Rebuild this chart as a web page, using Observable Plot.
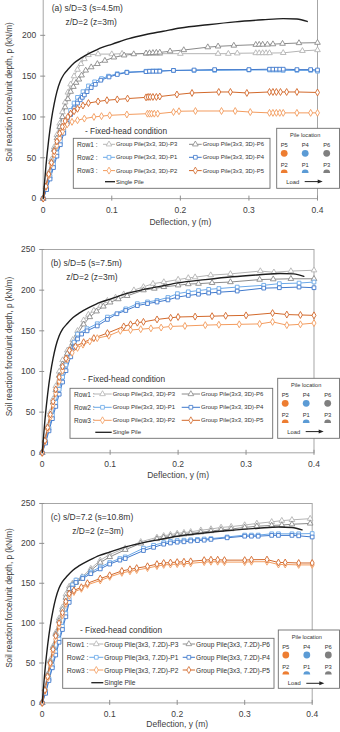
<!DOCTYPE html>
<html>
<head>
<meta charset="utf-8">
<script src="https://cdn.jsdelivr.net/npm/d3@7"></script>
<script src="https://cdn.jsdelivr.net/npm/@observablehq/plot@0.6"></script>
<style>
  body { margin: 0; background: #fff; }
  #page { position: relative; width: 340px; height: 732px; overflow: hidden;
          font-family: "Liberation Sans", Arial, sans-serif; background: #fff; }
  #page > svg { position: absolute; left: 0; }
  #overlay { pointer-events: none; }
</style>
</head>
<body>
<div id="page"></div>
<script>
// ---- Axis ticks -------------------------------------------------------
const xTicks = [0, 0.1, 0.2, 0.3, 0.4];
const yTicks = [0, 50, 100, 150, 200, 250];

// ---- Single pile response: [deflection y (m), p (kN/m)] ----------------
const singlePile = [[0,0],[0.004,40],[0.008,72],[0.012,97],[0.016,116],[0.02,131],[0.025,144],[0.03,152],
  [0.037,159],[0.045,166],[0.055,172],[0.07,179],[0.085,185],[0.1,189],[0.125,196],[0.15,201],[0.175,205],
  [0.2,209],[0.24,213],[0.28,216.5],[0.32,219],[0.35,220.5],[0.37,220],[0.385,217]];

// ---- (a) s/D = 3 -------------------------------------------------------
const a_P3 = [[0,0],[0.004,15],[0.008,32],[0.012,48],[0.016,63],[0.02,78],[0.024,92],[0.028,106],[0.032,118],
  [0.036,130],[0.04,140],[0.045,150],[0.05,158],[0.055,165],[0.06,171],[0.066,176],[0.08,177],[0.1,177],
  [0.115,177.5],[0.15,177.5],[0.155,177.5],[0.16,177.5],[0.165,177.5],[0.17,177.5],[0.2,177.5],[0.255,177.5],
  [0.27,177.5],[0.283,178],[0.31,178.3],[0.315,178.3],[0.32,178.3],[0.325,178.3],[0.33,178.3],[0.35,178.5],
  [0.378,181],[0.4,182]];
const a_P6 = [[0,0],[0.004,14],[0.008,30],[0.012,45],[0.016,60],[0.02,74],[0.024,88],[0.028,100],[0.032,112],
  [0.036,122],[0.04,131],[0.044,137],[0.048,142],[0.052,146],[0.056,151],[0.062,157],[0.07,161],[0.079,165],
  [0.09,169],[0.103,173],[0.118,175.5],[0.132,177],[0.15,178],[0.155,178.3],[0.16,178.5],[0.165,178.8],
  [0.17,179],[0.185,180.5],[0.205,182],[0.24,185.5],[0.255,186.5],[0.278,187.5],[0.31,188.5],[0.315,188.6],
  [0.32,188.7],[0.327,188.8],[0.335,189.2],[0.349,189.8],[0.373,190.6],[0.4,191]];
const a_P1 = [[0,0],[0.005,12],[0.01,27],[0.015,42],[0.02,56],[0.025,70],[0.03,84],[0.035,97],[0.04,108],
  [0.045,117],[0.05,124],[0.058,131],[0.066,138],[0.075,143],[0.085,147],[0.095,150],[0.108,153],[0.122,155],
  [0.15,156],[0.155,156],[0.16,156.3],[0.165,156.3],[0.17,156.5],[0.19,157],[0.22,157],[0.25,157],[0.3,157.5],
  [0.33,157.5],[0.335,157.5],[0.34,157.5],[0.345,157.5],[0.35,157],[0.37,157],[0.39,157],[0.4,156]];
const a_P4 = [[0,0],[0.005,11],[0.01,24],[0.015,38],[0.02,52],[0.025,66],[0.03,80],[0.035,92],[0.04,103],
  [0.045,111],[0.05,117],[0.054,121],[0.057,124],[0.06,127],[0.064,131],[0.07,136],[0.076,140],[0.084,145],
  [0.096,149],[0.108,152],[0.122,154.5],[0.15,155.5],[0.155,156],[0.16,156],[0.165,156],[0.17,156],[0.19,157],
  [0.22,157.5],[0.25,158],[0.3,158],[0.33,158.5],[0.335,158.5],[0.34,158.5],[0.345,158.5],[0.35,158.5],
  [0.37,158],[0.39,158],[0.4,157.5]];
const a_P2 = [[0,0],[0.004,14],[0.008,28],[0.012,42],[0.016,54],[0.02,65],[0.024,74],[0.028,82],[0.031,88],
  [0.035,91],[0.042,94],[0.05,96],[0.06,98],[0.074,100],[0.085,101],[0.097,102],[0.122,103],[0.152,104],
  [0.155,104],[0.158,104],[0.162,104],[0.167,104],[0.19,106],[0.198,107],[0.222,107.3],[0.26,107.3],
  [0.28,107.3],[0.302,106],[0.33,105],[0.335,105],[0.34,105],[0.345,105],[0.35,105],[0.37,105],[0.39,105],
  [0.4,105]];
const a_P5 = [[0,0],[0.004,15],[0.008,30],[0.012,44],[0.016,58],[0.02,70],[0.024,80],[0.028,88],[0.032,95],
  [0.036,100],[0.04,104],[0.045,107],[0.05,110],[0.058,114],[0.066,117],[0.08,119],[0.093,120.5],[0.108,121.5],
  [0.123,122.5],[0.15,124],[0.153,124.5],[0.156,124.5],[0.16,124.5],[0.165,124.5],[0.17,125],[0.195,127.5],
  [0.217,129.4],[0.256,130.6],[0.273,130.6],[0.297,129.4],[0.33,130.6],[0.335,130.6],[0.34,130.6],
  [0.346,130.6],[0.355,130.6],[0.37,130.6],[0.4,130]];

// ---- (b) s/D = 5 -------------------------------------------------------
const b_P3 = [[0,0],[0.004,16],[0.008,33],[0.012,50],[0.016,66],[0.02,82],[0.025,100],[0.03,114],[0.037,126],
  [0.045,139],[0.052,150],[0.061,163],[0.068,170],[0.076,175],[0.086,181],[0.096,187],[0.108,191],[0.12,195],
  [0.135,200],[0.149,204],[0.163,208],[0.179,210],[0.2,213],[0.215,215],[0.225,216],[0.248,218.5],
  [0.277,220],[0.321,223.5],[0.341,222],[0.366,223.5],[0.4,224.5]];
const b_P6 = [[0,0],[0.004,15],[0.008,31],[0.012,47],[0.016,62],[0.02,77],[0.025,95],[0.03,109],[0.037,122],
  [0.045,135],[0.052,146],[0.061,158],[0.07,167],[0.08,174],[0.09,180],[0.1,185],[0.112,189],[0.125,193],
  [0.149,200],[0.165,202],[0.179,204],[0.2,206],[0.215,207.5],[0.23,208],[0.25,209],[0.277,210],[0.32,213],
  [0.34,213.5],[0.366,214],[0.4,214]];
const b_P1 = [[0,0],[0.005,14],[0.01,30],[0.015,46],[0.02,62],[0.025,78],[0.03,93],[0.035,108],[0.042,125],
  [0.047,136],[0.052,146],[0.066,152.6],[0.081,158.7],[0.096,166.9],[0.123,177],[0.14,183.4],[0.155,185.5],
  [0.169,187.4],[0.185,191],[0.199,195.7],[0.215,198],[0.23,199.5],[0.245,201],[0.26,202],[0.287,203.8],
  [0.326,206],[0.349,208],[0.378,208.7],[0.4,210]];
const b_P4 = [[0,0],[0.005,12],[0.01,27],[0.015,42],[0.02,57],[0.025,72],[0.03,87],[0.035,101],[0.042,118],
  [0.047,130],[0.052,140],[0.058,146],[0.066,150],[0.081,156],[0.096,164],[0.11,171],[0.123,175],[0.14,181],
  [0.155,183.5],[0.169,185.4],[0.185,188],[0.199,191.5],[0.215,193.5],[0.23,195],[0.245,196.5],[0.26,197.5],
  [0.287,198.9],[0.326,202.5],[0.349,203],[0.378,203.8],[0.4,203]];
const b_P2 = [[0,0],[0.004,14],[0.008,29],[0.012,44],[0.016,59],[0.02,73],[0.025,88],[0.03,101],[0.037,115],
  [0.044,123],[0.052,129],[0.06,133],[0.07,137],[0.081,141],[0.098,144],[0.115,150],[0.13,151],[0.145,152],
  [0.16,153],[0.175,154],[0.189,155.4],[0.21,156],[0.24,157],[0.26,157.5],[0.29,158],[0.32,158.5],
  [0.339,161],[0.36,157],[0.38,158],[0.4,159.5]];
const b_P5 = [[0,0],[0.004,15],[0.008,31],[0.012,47],[0.016,63],[0.02,78],[0.025,93],[0.03,106],[0.035,116],
  [0.04,126],[0.049,130.8],[0.061,136],[0.076,141],[0.096,147.2],[0.12,155.4],[0.13,158],[0.14,160],
  [0.149,161],[0.169,164],[0.189,166],[0.2,167],[0.225,167.5],[0.25,168],[0.27,168.5],[0.3,169],
  [0.339,171.8],[0.36,170],[0.38,169.5],[0.4,169]];

// ---- (c) s/D = 7.2 -----------------------------------------------------
const c_P3 = [[0,0],[0.004,18],[0.008,36],[0.012,54],[0.016,71],[0.02,88],[0.025,106],[0.03,120],[0.035,136],
  [0.04,146],[0.045,150],[0.05,153],[0.059,158],[0.072,168.4],[0.086,178.8],[0.1,186],[0.123,194],[0.146,202],
  [0.17,207.5],[0.18,209.5],[0.19,211],[0.2,212.5],[0.21,213.5],[0.22,214.5],[0.235,216.5],[0.25,218],
  [0.265,220],[0.28,221],[0.3,223],[0.318,225],[0.34,227],[0.355,228.5],[0.37,229.5],[0.397,231]];
const c_P6 = [[0,0],[0.004,17],[0.008,35],[0.012,52],[0.016,69],[0.02,86],[0.025,103],[0.03,117],[0.035,132],
  [0.04,143],[0.045,148],[0.05,151],[0.059,156],[0.072,166],[0.086,176],[0.1,183],[0.123,192],[0.146,200],
  [0.17,205.5],[0.18,207.5],[0.19,209],[0.2,210.5],[0.21,211.5],[0.22,212.5],[0.235,214],[0.25,215.5],
  [0.265,217],[0.28,218],[0.3,220],[0.318,221.5],[0.34,222.5],[0.355,223],[0.37,224],[0.397,225]];
const c_P1 = [[0,0],[0.005,13],[0.01,30],[0.015,47],[0.02,64],[0.025,80],[0.03,96],[0.035,112],[0.04,130],
  [0.045,148],[0.05,154],[0.06,158],[0.072,164],[0.086,170.4],[0.1,176],[0.115,181],[0.123,183],[0.15,194],
  [0.165,197.6],[0.18,201],[0.19,202.5],[0.2,203.5],[0.21,204],[0.22,204.5],[0.23,205],[0.24,205.5],
  [0.25,206],[0.274,208],[0.3,210.4],[0.31,210.4],[0.32,210.4],[0.34,212],[0.35,212],[0.37,212],[0.38,212],
  [0.4,212.3]];
const c_P4 = [[0,0],[0.005,12],[0.01,28],[0.015,44],[0.02,60],[0.025,76],[0.03,92],[0.035,108],[0.04,126],
  [0.045,144],[0.05,151],[0.06,156],[0.072,162],[0.086,168],[0.1,174],[0.115,179],[0.123,181],[0.15,191],
  [0.165,195],[0.18,199],[0.19,200.5],[0.2,201.5],[0.21,202],[0.22,203],[0.23,203.5],[0.24,204],[0.25,205],
  [0.274,207],[0.3,209],[0.31,209],[0.32,209],[0.34,210],[0.35,210],[0.37,210],[0.38,209.5],[0.4,208]];
const c_P2 = [[0,0],[0.004,15],[0.008,31],[0.012,48],[0.016,64],[0.02,80],[0.025,96],[0.03,110],[0.035,124],
  [0.04,134],[0.047,139],[0.058,143],[0.067,148],[0.086,153.5],[0.1,158],[0.118,163],[0.13,165],[0.14,166.5],
  [0.156,169],[0.17,171.5],[0.18,173],[0.19,173.5],[0.2,174],[0.21,174.5],[0.22,175],[0.24,176.5],[0.25,177],
  [0.26,177],[0.27,176.5],[0.3,176.5],[0.31,177],[0.333,177],[0.35,173.5],[0.36,173.5],[0.38,173],[0.4,173]];
const c_P5 = [[0,0],[0.004,16],[0.008,33],[0.012,50],[0.016,67],[0.02,84],[0.025,100],[0.03,113],[0.035,127],
  [0.04,137],[0.047,141],[0.058,145],[0.067,150],[0.086,155.9],[0.1,160],[0.118,165.4],[0.13,167.5],[0.14,169],
  [0.156,171.3],[0.17,174],[0.18,175.4],[0.19,176],[0.2,176.5],[0.21,177],[0.22,177.5],[0.24,179],[0.25,179.5],
  [0.26,179.5],[0.27,179],[0.3,179],[0.31,179.5],[0.333,179.7],[0.35,176],[0.36,176],[0.38,175.4],[0.4,175.4]];

// ---- Labels -------------------------------------------------------------
const panelTitles = ["(a) s/D=3 (s=4.5m)", "(b) s/D=5 (s=7.5m)", "(c) s/D=7.2 (s=10.8m)"];
const depthNote = "z/D=2 (z=3m)";
const spacingTags = ["3D", "3D", "7.2D"];
const xTitle = "Deflection, y (m)";
const yTitle = "Soil reaction force/unit depth, p (kN/m)";
const conditionNote = "- Fixed-head condition";
const rowNames = ["Row1 :", "Row2 :", "Row3 :"];
const rowPiles = [["P3", "P6"], ["P1", "P4"], ["P2", "P5"]];
const singleLabel = "Single Pile";
const locTitle = "Pile location";
const locTopRow = ["P5", "P4", "P6"];
const locBottomRow = ["P2", "P1", "P3"];
const loadLabel = "Load";

// ---- Styling ------------------------------------------------------------
const pileStyle = {
  P3: {color: "#b4b4b4", symbol: "triangle"},
  P6: {color: "#8a8a8a", symbol: "triangle"},
  P1: {color: "#6aa8e8", symbol: "square"},
  P4: {color: "#3f78cc", symbol: "square"},
  P2: {color: "#f39c5e", symbol: "diamond"},
  P5: {color: "#d2682a", symbol: "diamond"}
};
const locColor = {P5: "#ed7d31", P2: "#ed7d31", P4: "#5b9bd5", P1: "#5b9bd5", P6: "#7f7f7f", P3: "#7f7f7f"};
const FONT = "'Liberation Sans', Arial, sans-serif";
const TEXT = "#404040";

const panelSeries = [
  {P3: a_P3, P6: a_P6, P1: a_P1, P4: a_P4, P2: a_P2, P5: a_P5},
  {P3: b_P3, P6: b_P6, P1: b_P1, P4: b_P4, P2: b_P2, P5: b_P5},
  {P3: c_P3, P6: c_P6, P1: c_P1, P4: c_P4, P2: c_P2, P5: c_P5}
];

// Page layout of each panel: plot frame edges (px) and annotation placement.
// Panel (a) runs off the top of the page, so its 250 label is left out.
const layout = [
  {left: 42.7, right: 317, top: -5.8, bottom: 198.3, noteDx: 22.3, xTitleDy: 26.7, yTitleY: 92, yMaxLabel: 200,
   legend: {x0: 73.3, x1: 270, y0: 138.3, y1: 188.3, noteX: 85, noteY: 131, rows: [144.3, 157.3, 170.6, 181.7],
            rowX: 77, s1: [103, 115], t1: 116, s2: [189, 201.7], t2: 202.7, fs: 5.9, rfs: 6.6},
   loc: {x0: 276.7, x1: 339.5, y0: 128.3, y1: 188.3}},
  {left: 41.7, right: 313.5, top: 249, bottom: 452.3, noteDx: 24, xTitleDy: 25.7, yTitleY: 346.5, yMaxLabel: 250,
   legend: {x0: 70, x1: 272.7, y0: 388.3, y1: 438.3, noteX: 83, noteY: 379, rows: [394, 407.3, 420.3, 432.3],
            rowX: 74, s1: [93.3, 111.7], t1: 112.7, s2: [181.7, 200], t2: 201, fs: 6, rfs: 6.6},
   loc: {x0: 277.7, x1: 339.5, y0: 378.3, y1: 438.3}},
  {left: 41.7, right: 311.7, top: 503.3, bottom: 702.7, noteDx: 30, xTitleDy: 24.3, yTitleY: 598, yMaxLabel: 250,
   legend: {x0: 62.7, x1: 274, y0: 638.3, y1: 688.3, noteX: 80, noteY: 630, rows: [644, 657.3, 670, 682.7],
            rowX: 66.7, s1: [89.3, 103.3], t1: 104.3, s2: [182.7, 195], t2: 196, fs: 6.6, rfs: 7},
   loc: {x0: 278.3, x1: 339.5, y0: 630, y1: 688.3}}
];

const page = document.getElementById("page");
const MT = 12, MB = 34;

const toRows = (arr) => arr.map(([y, p]) => ({y, p}));
const drawOrder = ["P3", "P6", "P1", "P4", "P2", "P5"];

layout.forEach((L, i) => {
  const series = panelSeries[i];
  const shownY = yTicks.filter(t => t <= L.yMaxLabel);
  const marks = [
    Plot.frame({stroke: "#a6a6a6", strokeWidth: 1}),
    // tick marks straddling the axis lines
    Plot.axisY({ticks: shownY, tickSize: 5, dx: 2.5, tickFormat: () => "", stroke: "#8f8f8f", label: null}),
    Plot.axisX({ticks: xTicks, tickSize: 5, dy: -2.5, tickFormat: () => "", stroke: "#8f8f8f", label: null}),
    // tick labels
    Plot.axisY({ticks: shownY, tickSize: 0, tickPadding: 7, fontSize: 8.5, label: null, fill: TEXT}),
    Plot.axisX({ticks: xTicks, tickSize: 0, tickPadding: 8, fontSize: 8.5, label: null, fill: TEXT,
                tickFormat: d => String(d)})
  ];
  for (const key of drawOrder) {
    marks.push(Plot.line(toRows(series[key]), {x: "y", y: "p", stroke: pileStyle[key].color, strokeWidth: 1}));
  }
  for (const key of drawOrder) {
    marks.push(Plot.dot(toRows(series[key]), {x: "y", y: "p", symbol: pileStyle[key].symbol, r: 2.1,
      stroke: pileStyle[key].color, fill: "white", strokeWidth: 0.9}));
  }
  marks.push(Plot.line(toRows(singlePile), {x: "y", y: "p", stroke: "#1e1e1e", strokeWidth: 1.4, curve: "monotone-x"}));
  marks.push(Plot.text([panelTitles[i]], {text: d => d, frameAnchor: "top-left", dx: 8.5, dy: 10,
    textAnchor: "start", fontSize: 8.5, fill: "#333"}));
  marks.push(Plot.text([depthNote], {text: d => d, frameAnchor: "top-left", dx: L.noteDx, dy: 24.6,
    textAnchor: "start", fontSize: 8.5, fill: "#333"}));
  marks.push(Plot.text([xTitle], {text: d => d, frameAnchor: "bottom", dy: L.xTitleDy,
    fontSize: 8.5, fill: TEXT}));

  const svg = Plot.plot({
    width: 340,
    height: (L.bottom - L.top) + MT + MB,
    marginLeft: L.left, marginRight: 340 - L.right,
    marginTop: MT, marginBottom: MB,
    x: {domain: [0, 0.4]},
    y: {domain: [0, 250]},
    style: {fontFamily: FONT, color: TEXT, background: "transparent", overflow: "visible"},
    marks
  });
  svg.style.top = (L.top - MT) + "px";
  page.appendChild(svg);
});

// ---- Annotations drawn above the plots: axis titles and legends --------
const ov = d3.select(page).append("svg").attr("id", "overlay")
  .attr("width", 340).attr("height", 732).style("top", "0px")
  .style("font-family", FONT);

function sample(g, x0, x1, y, key) {
  const st = pileStyle[key];
  g.append("line").attr("x1", x0).attr("x2", x1).attr("y1", y).attr("y2", y)
    .attr("stroke", st.color).attr("stroke-width", 1);
  const sym = {triangle: d3.symbolTriangle, square: d3.symbolSquare, diamond: d3.symbolDiamond}[st.symbol];
  g.append("path").attr("d", d3.symbol(sym, 14)())
    .attr("transform", `translate(${(x0 + x1) / 2},${y})`)
    .attr("fill", "white").attr("stroke", st.color).attr("stroke-width", 0.8);
}

layout.forEach((L, i) => {
  // y-axis title
  ov.append("text").attr("transform", `translate(9.5,${L.yTitleY}) rotate(-90)`)
    .attr("text-anchor", "middle").attr("dominant-baseline", "central")
    .attr("font-size", 8.2).attr("fill", TEXT).text(yTitle);

  const g = L.legend;
  ov.append("text").attr("x", g.noteX).attr("y", g.noteY).attr("dominant-baseline", "central")
    .attr("font-size", 8.3).attr("fill", "#333").text(conditionNote);
  ov.append("rect").attr("x", g.x0).attr("y", g.y0).attr("width", g.x1 - g.x0).attr("height", g.y1 - g.y0)
    .attr("fill", "white").attr("stroke", "#6e6e6e").attr("stroke-width", 0.9);
  rowNames.forEach((name, r) => {
    const y = g.rows[r];
    ov.append("text").attr("x", g.rowX).attr("y", y).attr("dominant-baseline", "central")
      .attr("font-size", g.rfs).attr("fill", "#333").text(name);
    const [k1, k2] = rowPiles[r];
    sample(ov, g.s1[0], g.s1[1], y, k1);
    ov.append("text").attr("x", g.t1).attr("y", y).attr("dominant-baseline", "central")
      .attr("font-size", g.fs).attr("fill", "#333").text(`Group Pile(3x3, ${spacingTags[i]})-${k1}`);
    sample(ov, g.s2[0], g.s2[1], y, k2);
    ov.append("text").attr("x", g.t2).attr("y", y).attr("dominant-baseline", "central")
      .attr("font-size", g.fs).attr("fill", "#333").text(`Group Pile(3x3, ${spacingTags[i]})-${k2}`);
  });
  const ys = g.rows[3];
  ov.append("line").attr("x1", g.s1[0] + 2).attr("x2", g.s1[1]).attr("y1", ys).attr("y2", ys)
    .attr("stroke", "#1e1e1e").attr("stroke-width", 1.3);
  ov.append("text").attr("x", g.t1).attr("y", ys).attr("dominant-baseline", "central")
    .attr("font-size", g.fs).attr("fill", "#333").text(singleLabel);

  // pile location key
  const c = L.loc;
  ov.append("rect").attr("x", c.x0).attr("y", c.y0).attr("width", c.x1 - c.x0).attr("height", c.y1 - c.y0)
    .attr("fill", "white").attr("stroke", "#6e6e6e").attr("stroke-width", 0.9);
  const cols = [c.x0 + 7.5, c.x0 + 28.5, c.x0 + 50];
  ov.append("text").attr("x", c.x0 + 28.5).attr("y", c.y0 + 6.8).attr("text-anchor", "middle")
    .attr("dominant-baseline", "central").attr("font-size", 5.6).attr("fill", "#333").text(locTitle);
  locTopRow.forEach((k, j) => {
    ov.append("text").attr("x", cols[j]).attr("y", c.y0 + 16.7).attr("text-anchor", "middle")
      .attr("dominant-baseline", "central").attr("font-size", 5.8).attr("fill", "#333").text(k);
    ov.append("circle").attr("cx", cols[j]).attr("cy", c.y0 + 25).attr("r", 3.4).attr("fill", locColor[k]);
  });
  locBottomRow.forEach((k, j) => {
    ov.append("text").attr("x", cols[j]).attr("y", c.y0 + 36.5).attr("text-anchor", "middle")
      .attr("dominant-baseline", "central").attr("font-size", 5.8).attr("fill", "#333").text(k);
    const cx = cols[j], cy = c.y0 + 44.6, r = 3.4;
    ov.append("path").attr("d", `M${cx - r},${cy} A${r},${r} 0 0 1 ${cx + r},${cy} Z`).attr("fill", locColor[k]);
  });
  ov.append("text").attr("x", c.x0 + 16).attr("y", c.y0 + 53.3).attr("text-anchor", "middle")
    .attr("dominant-baseline", "central").attr("font-size", 5.8).attr("fill", "#333").text(loadLabel);
  const ay = c.y0 + 53.3;
  ov.append("line").attr("x1", c.x0 + 28).attr("x2", c.x0 + 42).attr("y1", ay).attr("y2", ay)
    .attr("stroke", "#222").attr("stroke-width", 1);
  ov.append("path").attr("d", `M${c.x0 + 46},${ay} L${c.x0 + 41},${ay - 2} L${c.x0 + 41},${ay + 2} Z`).attr("fill", "#222");
});
</script>
</body>
</html>
